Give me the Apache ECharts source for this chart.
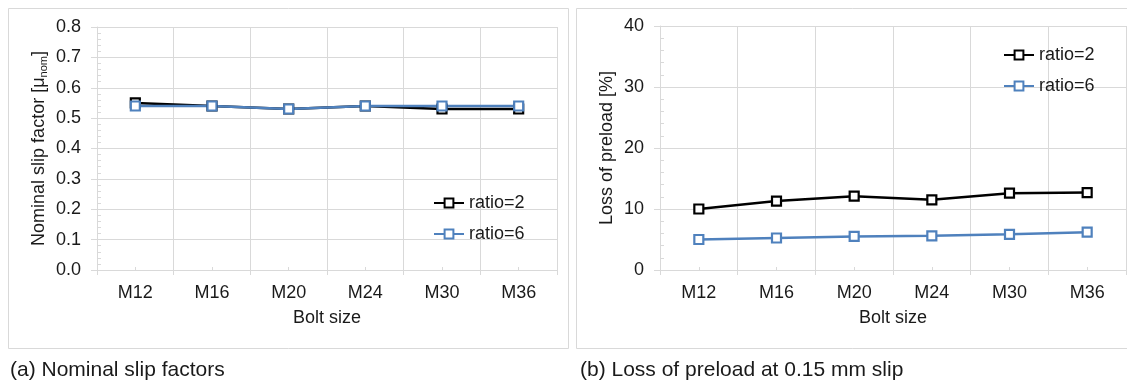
<!DOCTYPE html>
<html>
<head>
<meta charset="utf-8">
<script src="https://cdn.jsdelivr.net/npm/echarts@6/dist/echarts.min.js"></script>
<style>
html,body{margin:0;padding:0;background:#fff;}
#c{width:1127px;height:383px;}
</style>
</head>
<body>
<div id="c"></div>
<script>
const categories = ['M12', 'M16', 'M20', 'M24', 'M30', 'M36'];
const slipRatio2 = [0.55, 0.54, 0.53, 0.54, 0.53, 0.53];
const slipRatio6 = [0.54, 0.54, 0.53, 0.54, 0.54, 0.54];
const lossRatio2 = [10.0, 11.3, 12.1, 11.5, 12.6, 12.7];
const lossRatio6 = [5.0, 5.25, 5.5, 5.6, 5.85, 6.2];
const seriesNames = ['ratio=2', 'ratio=6'];
const captionA = '(a) Nominal slip factors';
const captionB = '(b) Loss of preload at 0.15 mm slip';

const FONT = 'Liberation Sans, Arial, sans-serif';
const TXT = '#1a1a1a';
const GRIDC = '#d9d9d9';
const BLACK = '#000000';
const BLUE = '#4f81bd';

const chart = echarts.init(document.getElementById('c'), null, {renderer: 'canvas'});

function catAxis(gi, name) {
  return {
    type: 'category', gridIndex: gi, data: categories, boundaryGap: true, position: 'bottom',
    name: name, nameLocation: 'middle', nameGap: 39,
    nameTextStyle: {fontFamily: FONT, fontSize: 18, color: TXT},
    axisLine: {lineStyle: {color: GRIDC, width: 1}},
    axisTick: {show: true, length: 5, lineStyle: {color: GRIDC}},
    axisLabel: {fontFamily: FONT, fontSize: 18, color: TXT, margin: 14},
    splitLine: {show: true, lineStyle: {color: GRIDC, width: 1}}
  };
}
function catMinor(gi) {
  return {
    type: 'category', gridIndex: gi, data: categories, boundaryGap: true, position: 'bottom', offset: 0,
    axisLine: {show: false},
    axisTick: {show: true, alignWithLabel: true, inside: true, length: 3, lineStyle: {color: GRIDC}},
    axisLabel: {show: false}, splitLine: {show: false}
  };
}
function valAxis(gi, min, max, interval, name, nameGap, fmt, margin) {
  return {
    type: 'value', gridIndex: gi, min: min, max: max, interval: interval, position: 'left',
    name: name, nameLocation: 'middle', nameGap: nameGap, nameRotate: 90,
    nameTextStyle: {fontFamily: FONT, fontSize: 18, color: TXT,
      rich: {
        n: {fontFamily: FONT, fontSize: 18, color: TXT},
        s: {fontFamily: FONT, fontSize: 11, color: TXT, padding: [8, 0, 0, 0]}
      }},
    axisLine: {show: true, lineStyle: {color: GRIDC, width: 1}},
    axisTick: {show: true, length: 6, lineStyle: {color: GRIDC}},
    axisLabel: {fontFamily: FONT, fontSize: 18, color: TXT, margin: margin, formatter: fmt},
    splitLine: {show: true, lineStyle: {color: GRIDC, width: 1}},
    minorTick: {show: false}
  };
}
function valMinor(gi, min, max, interval) {
  return {
    type: 'value', gridIndex: gi, min: min, max: max, interval: interval, position: 'left', offset: 0,
    axisLine: {show: false},
    axisTick: {show: false, inside: true},
    minorTick: {show: true, splitNumber: 5, length: 4, lineStyle: {color: GRIDC}},
    axisLabel: {show: false}, splitLine: {show: false}, minorSplitLine: {show: false}
  };
}
function lineSeries(name, data, color, xi, yi) {
  return {
    name: name, type: 'line', data: data, xAxisIndex: xi, yAxisIndex: yi,
    symbol: 'rect', symbolSize: 9, showSymbol: true,
    lineStyle: {color: color, width: 2.5},
    itemStyle: {color: '#ffffff', borderColor: color, borderWidth: 2.2},
    emphasis: {disabled: true}, animation: false
  };
}
function legend(left, top) {
  return {
    data: seriesNames, orient: 'vertical', left: left, top: top,
    itemWidth: 30, itemHeight: 11, itemGap: 13, padding: 0,
    textStyle: {fontFamily: FONT, fontSize: 18, color: TXT},
    selectedMode: false
  };
}

const option = {
  animation: false,
  backgroundColor: '#ffffff',
  grid: [
    {left: 97, top: 27, width: 460, height: 243, containLabel: false},
    {left: 660, top: 26, width: 466, height: 244, containLabel: false}
  ],
  xAxis: [
    catAxis(0, 'Bolt size'), catMinor(0),
    catAxis(1, 'Bolt size'), catMinor(1)
  ],
  yAxis: [
    valAxis(0, 0, 0.8, 0.1, '{n|Nominal slip factor [μ}{s|nom}{n|]}', 48, v => v.toFixed(1), 16),
    valMinor(0, 0, 0.8, 0.1),
    valAxis(1, 0, 40, 10, 'Loss of preload [%]', 44, v => String(v), 16),
    valMinor(1, 0, 40, 10)
  ],
  legend: [legend(433, 194), legend(1003, 46)],
  series: [
    lineSeries(seriesNames[0], slipRatio2, BLACK, 0, 0),
    lineSeries(seriesNames[1], slipRatio6, BLUE, 0, 0),
    lineSeries(seriesNames[0], lossRatio2, BLACK, 2, 2),
    lineSeries(seriesNames[1], lossRatio6, BLUE, 2, 2)
  ],
  graphic: [
    {type: 'rect', shape: {x: 8.5, y: 8.5, width: 560, height: 340}, style: {fill: 'none', stroke: GRIDC, lineWidth: 1}, silent: true, z: -1},
    {type: 'rect', shape: {x: 576.5, y: 8.5, width: 560, height: 340}, style: {fill: 'none', stroke: GRIDC, lineWidth: 1}, silent: true, z: -1},
    {type: 'text', left: 10, top: 360, style: {text: captionA, font: '21px ' + FONT, fill: TXT}, silent: true},
    {type: 'text', left: 580, top: 360, style: {text: captionB, font: '21px ' + FONT, fill: TXT}, silent: true}
  ]
};
chart.setOption(option);
</script>
</body>
</html>
